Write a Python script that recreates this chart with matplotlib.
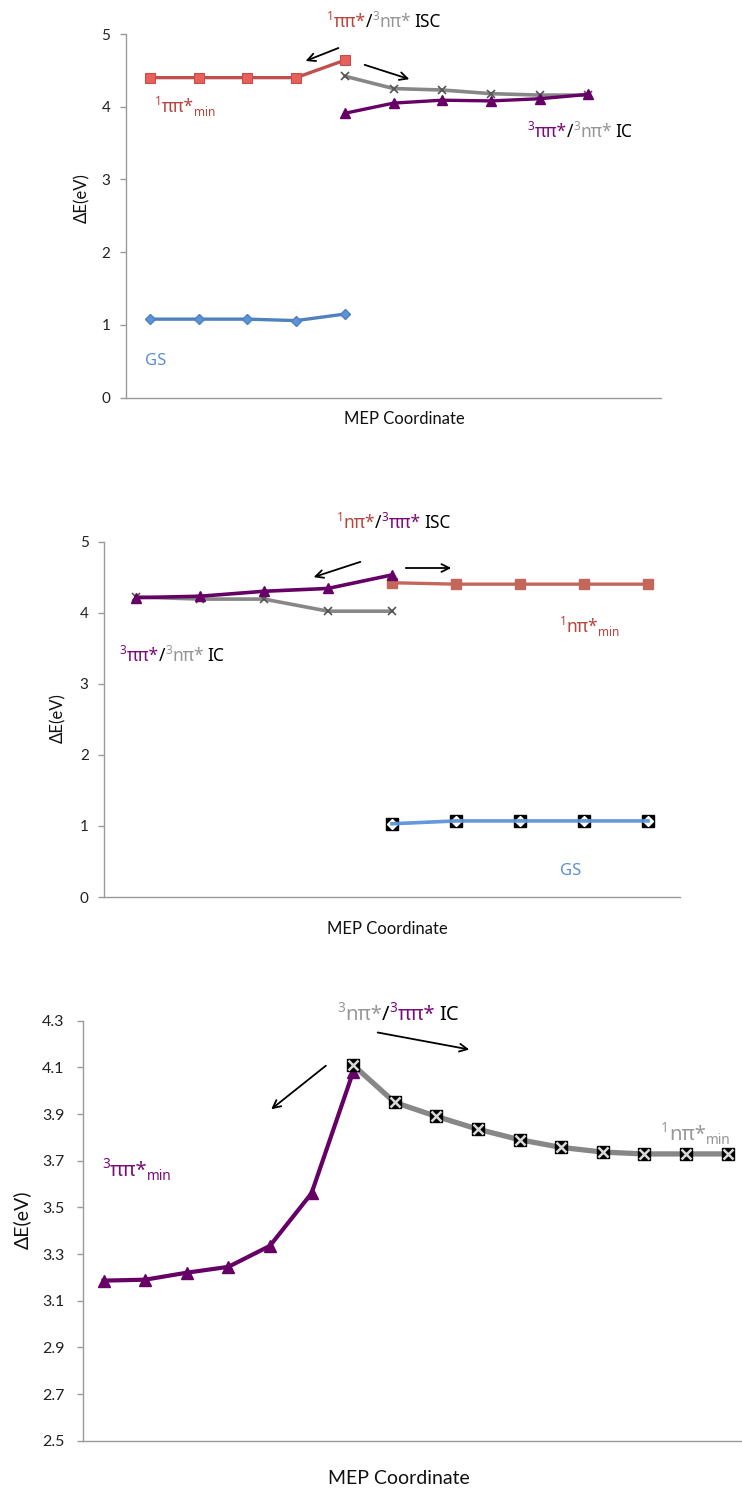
import numpy as np
import matplotlib
matplotlib.use("Agg")
import matplotlib.pyplot as plt
from matplotlib.transforms import IdentityTransform

plt.rcParams['font.family'] = ['Lato', 'Noto Sans', 'DejaVu Sans']

nan = np.nan
# ---------------- data ----------------
# Panel 1 (11 category slots on MEP coordinate)
p1_n = 11
p1_gs = [1.08, 1.08, 1.08, 1.06, 1.15, nan, nan, nan, nan, nan]
p1_s1pp = [4.40, 4.40, 4.40, 4.40, 4.64, nan, nan, nan, nan, nan]
p1_t_np = [nan, nan, nan, nan, 4.42, 4.25, 4.23, 4.18, 4.16, 4.16]
p1_t_pp = [nan, nan, nan, nan, 3.91, 4.05, 4.09, 4.08, 4.11, 4.17]
p1_yticks = [0, 1, 2, 3, 4, 5]

# Panel 2 (9 slots)
p2_n = 9
p2_t_pp = [4.21, 4.23, 4.30, 4.34, 4.53, nan, nan, nan, nan]
p2_t_np = [4.22, 4.19, 4.19, 4.02, 4.02, nan, nan, nan, nan]
p2_s1np = [nan, nan, nan, nan, 4.42, 4.40, 4.40, 4.40, 4.40]
p2_gs = [nan, nan, nan, nan, 1.03, 1.07, 1.07, 1.07, 1.07]
p2_yticks = [0, 1, 2, 3, 4, 5]

# Panel 3 (16 slots)
p3_n = 16
p3_t_pp = [3.186, 3.19, 3.22, 3.245, 3.335, 3.56, 4.08,
           nan, nan, nan, nan, nan, nan, nan, nan, nan]
p3_t_np = [nan, nan, nan, nan, nan, nan, 4.11, 3.95, 3.89, 3.835,
           3.79, 3.757, 3.737, 3.729, 3.729, 3.729]
p3_yticks = [2.5, 2.7, 2.9, 3.1, 3.3, 3.5, 3.7, 3.9, 4.1, 4.3]
p3_yticklabels = ['2.5', '2.7', '2.9', '3.1', '3.3', '3.5', '3.7', '3.9', '4.1', '4.3']

# ---------------- style ----------------
RED_L = '#C0504D'
RED_M = '#E8605A'
RED2 = '#C4665A'
BLUE = '#4F81BD'
BLUE_M = '#5B93DA'
PURPLE = '#660066'
GRAY = '#878787'
GRAY_T = '#969696'
RED_T = '#B8443E'
PURPLE_T = '#7A0A7A'
BLUE_T = '#5A8FD6'
AXC = '#9A9A9A'
RICH_FONT = ['Noto Sans', 'DejaVu Sans']

W, H = 742, 1491
fig = plt.figure(figsize=(W / 100, H / 100), dpi=100)


def axes_px(left, top, right, bottom):
    return fig.add_axes([left / W, 1 - bottom / H, (right - left) / W, (bottom - top) / H])


def style_axes(ax, tsize, pad, tlen):
    for s in ['top', 'right']:
        ax.spines[s].set_visible(False)
    for s in ['left', 'bottom']:
        ax.spines[s].set_color(AXC)
        ax.spines[s].set_linewidth(1.0)
    ax.tick_params(axis='y', direction='out', length=tlen, width=1, color=AXC,
                   labelsize=tsize, pad=pad, labelcolor='#222222')
    ax.tick_params(axis='x', length=0, labelbottom=False)
    ax.patch.set_alpha(0)


# ---- Panel 1 ----
ax1 = axes_px(125.7, 34, 125.7 + 11 * 48.7, 397.7)
x1 = np.arange(10)
ax1.plot(x1, p1_gs, color=BLUE, lw=2.4, marker='D', ms=5.5, mfc=BLUE_M, mec=BLUE, zorder=3)
ax1.plot(x1, p1_s1pp, color=RED_L, lw=2.4, marker='s', ms=7.5, mfc=RED_M, mec=RED_L, mew=0.8, zorder=3)
ax1.plot(x1, p1_t_np, color=GRAY, lw=2.6, marker='x', ms=6, mec='#555555', mew=1.2, zorder=3)
ax1.plot(x1, p1_t_pp, color=PURPLE, lw=2.4, marker='^', ms=7.5, mfc=PURPLE, mec=PURPLE, zorder=3)
ax1.set_xlim(-0.5, p1_n - 0.5)
ax1.set_ylim(0, 5)
ax1.set_yticks(p1_yticks)
style_axes(ax1, 11, 7, 4)

# ---- Panel 2 ----
ax2 = axes_px(104, 541.5, 104 + 9 * 64.0, 897)
x2 = np.arange(9)
ax2.plot(x2, p2_t_np, color=GRAY, lw=2.6, marker='x', ms=6, mec='#555555', mew=1.2, zorder=3)
ax2.plot(x2, p2_t_pp, color=PURPLE, lw=2.6, marker='^', ms=7.5, mfc=PURPLE, mec=PURPLE, zorder=4)
ax2.plot(x2, p2_s1np, color=RED2, lw=2.4, marker='s', ms=7.5, mfc=RED2, mec=RED2, zorder=3)
ax2.plot(x2, p2_gs, ls='none', marker='s', ms=8.5, mfc='black', mec='black', zorder=3)
ax2.plot(x2, p2_gs, ls='none', marker='D', ms=5.5, mfc='white', mec='white', zorder=4)
ax2.plot(x2, p2_gs, color=BLUE_M, lw=2.6, zorder=5, alpha=0.95)
ax2.set_xlim(-0.5, p2_n - 0.5)
ax2.set_ylim(0, 5)
ax2.set_yticks(p2_yticks)
style_axes(ax2, 11, 7, 4)

# ---- Panel 3 ----
ax3 = axes_px(82.7, 1020.7, 82.7 + 16 * 41.6, 1440.7)
x3 = np.arange(16)
ax3.plot(x3, p3_t_pp, color=PURPLE, lw=3.0, marker='^', ms=9, mfc=PURPLE, mec=PURPLE, zorder=3)
ax3.plot(x3, p3_t_np, color=GRAY, lw=3.8, zorder=3)
ax3.plot(x3, p3_t_np, ls='none', marker='s', ms=9, mfc='black', mec='black', zorder=4)
ax3.plot(x3, p3_t_np, ls='none', marker='x', ms=6.5, mec='#D8D8D8', mew=1.8, zorder=5)
ax3.set_xlim(-0.5, p3_n - 0.5)
ax3.set_ylim(2.5, 4.3)
ax3.set_yticks(p3_yticks)
ax3.set_yticklabels(p3_yticklabels)
style_axes(ax3, 11.5, 9, 4)

# ---------------- text helpers ----------------
fig.canvas.draw()
renderer = fig.canvas.get_renderer()


def rich(x, ybase, parts, size, ha='left'):
    """parts: list of (text, color, kind, gap_px). kind n/sup/sub"""
    made = []
    cx = 0.0
    for txt, color, kind, gap in parts:
        fs = size if kind == 'n' else size * 0.68
        dy = 0.0
        if kind == 'sup':
            dy = size * 0.40 * 100 / 72
        elif kind == 'sub':
            dy = -size * 0.22 * 100 / 72
        cx += gap
        t = fig.text(cx, H - ybase + dy, txt, fontsize=fs, color=color, family=RICH_FONT,
                     transform=IdentityTransform(), ha='left', va='baseline')
        w = t.get_window_extent(renderer).width
        made.append((t, cx))
        cx += w
    total = cx
    off = x if ha == 'left' else (x - total / 2 if ha == 'center' else x - total)
    for t, px in made:
        pos = t.get_position()
        t.set_position((px + off, pos[1]))


def arrow(x0, y0, x1, y1):
    fig.patches.append(matplotlib.patches.FancyArrowPatch(
        (x0, H - y0), (x1, H - y1), transform=IdentityTransform(),
        arrowstyle='->', mutation_scale=14, lw=1.3, color='black'))


def label(x, y, s, size, rot=0):
    fig.text(x, H - y, s, fontsize=size, ha='center', va='center', rotation=rot,
             transform=IdentityTransform(), color='#111111')


# ---- Panel 1 texts ----
rich(384, 27, [('1', RED_T, 'sup', 0), ('ππ*', RED_T, 'n', 0), ('/', 'black', 'n', 0),
               ('3', GRAY_T, 'sup', 0), ('nπ*', GRAY_T, 'n', 0), ('ISC', 'black', 'n', 4)], 12.5, 'center')
rich(155, 112, [('1', RED_T, 'sup', 0), ('ππ*', RED_T, 'n', 0), ('min', RED_T, 'sub', 0)], 12.5)
rich(528, 137, [('3', PURPLE_T, 'sup', 0), ('ππ*', PURPLE_T, 'n', 0), ('/', 'black', 'n', 0),
                ('3', GRAY_T, 'sup', 0), ('nπ*', GRAY_T, 'n', 0), ('IC', 'black', 'n', 4)], 12.5)
rich(145, 365, [('GS', BLUE_T, 'n', 0)], 12)
arrow(341, 47, 303, 62)
arrow(362, 64, 412, 80)
label(81.7, 198, 'ΔE(eV)', 12, 90)
label(404, 419, 'MEP Coordinate', 12)

# ---- Panel 2 texts ----
rich(394, 528, [('1', RED_T, 'sup', 0), ('nπ*', RED_T, 'n', 0), ('/', 'black', 'n', 0),
                ('3', PURPLE_T, 'sup', 0), ('ππ*', PURPLE_T, 'n', 0), ('ISC', 'black', 'n', 4)], 12.5, 'center')
rich(120, 661, [('3', PURPLE_T, 'sup', 0), ('ππ*', PURPLE_T, 'n', 0), ('/', 'black', 'n', 0),
                ('3', GRAY_T, 'sup', 0), ('nπ*', GRAY_T, 'n', 0), ('IC', 'black', 'n', 4)], 12.5)
rich(560, 632, [('1', RED_T, 'sup', 0), ('nπ*', RED_T, 'n', 0), ('min', RED_T, 'sub', 0)], 12.5)
rich(560, 875, [('GS', BLUE_T, 'n', 0)], 12)
arrow(363, 561, 311, 578)
arrow(403, 568, 454, 568)
label(58, 718, 'ΔE(eV)', 12, 90)
label(387, 929, 'MEP Coordinate', 12)

# ---- Panel 3 texts ----
rich(398, 1020, [('3', GRAY_T, 'sup', 0), ('nπ*', GRAY_T, 'n', 0), ('/', 'black', 'n', 0),
                 ('3', PURPLE_T, 'sup', 0), ('ππ*', PURPLE_T, 'n', 0), ('IC', 'black', 'n', 4)], 14.5, 'center')
rich(102, 1176, [('3', PURPLE_T, 'sup', 0), ('ππ*', PURPLE_T, 'n', 0), ('min', PURPLE_T, 'sub', 0)], 14.5)
rich(661, 1140, [('1', GRAY_T, 'sup', 0), ('nπ*', GRAY_T, 'n', 0), ('min', GRAY_T, 'sub', 0)], 14.5)
arrow(328, 1064, 269, 1111)
arrow(375, 1032, 472, 1050)
label(22, 1220, 'ΔE(eV)', 14, 90)
label(399, 1478, 'MEP Coordinate', 14)

fig.savefig('out.png', dpi=100)
